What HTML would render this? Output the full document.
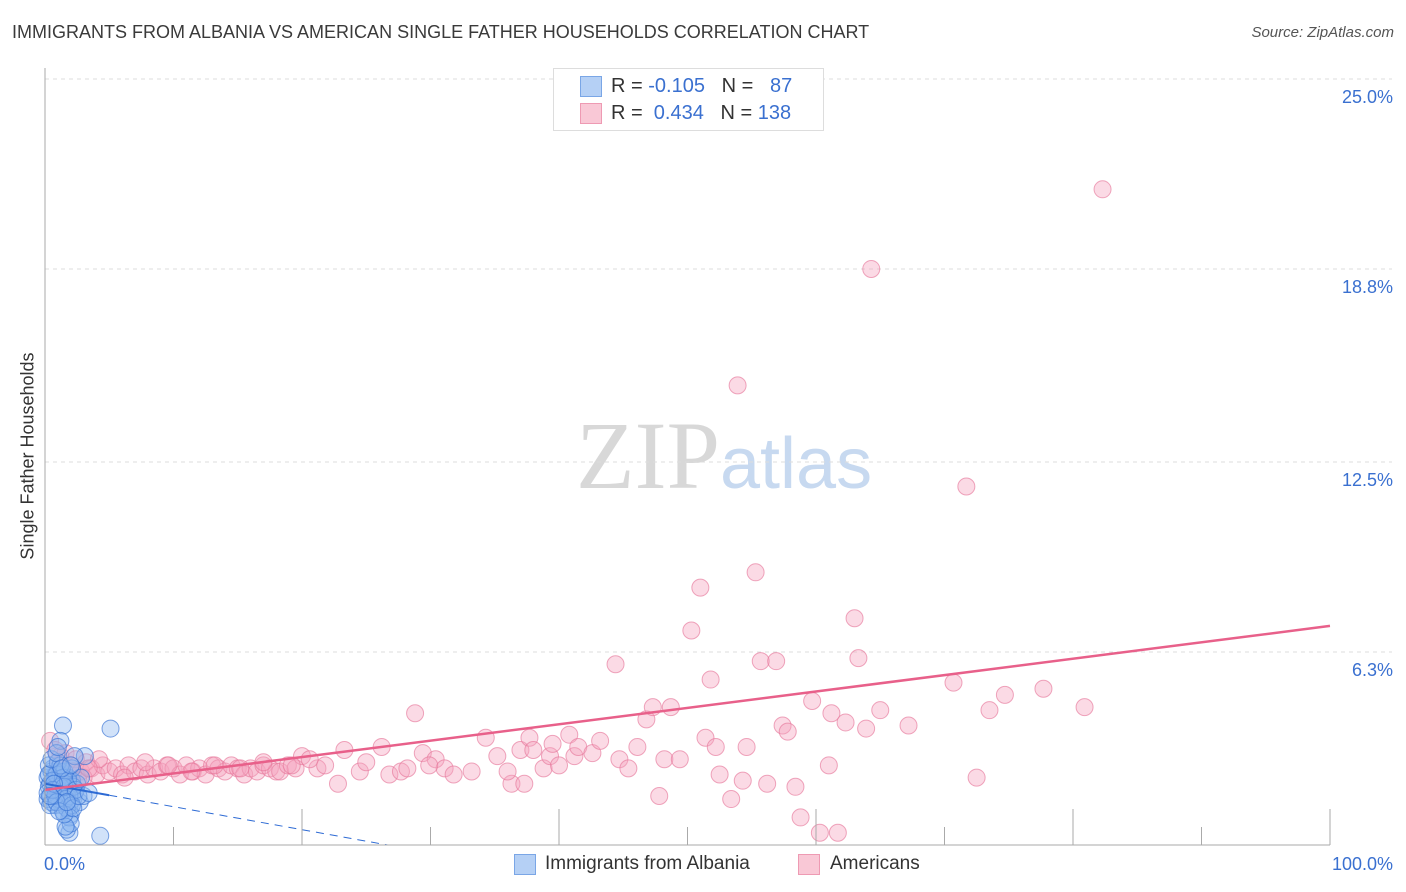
<!DOCTYPE html>
<html><head><meta charset="utf-8"><style>
html,body{margin:0;padding:0;background:#fff;}
body{width:1406px;height:892px;position:relative;overflow:hidden;font-family:"Liberation Sans",sans-serif;}
.t{position:absolute;white-space:nowrap;}
</style></head><body>
<div class="t" style="left:12px;top:22px;font-size:18px;color:#3a3a3a;">IMMIGRANTS FROM ALBANIA VS AMERICAN SINGLE FATHER HOUSEHOLDS CORRELATION CHART</div>
<div class="t" style="right:12px;top:24px;font-size:15px;color:#555;font-style:italic;">Source: ZipAtlas.com</div>
<svg id="chart" width="1406" height="892" style="position:absolute;left:0;top:0;">
<text x="720" y="488" text-anchor="end" font-family="Liberation Serif,serif" font-size="96" fill="#d8d8d8">ZIP</text>
<text x="720" y="488" font-family="Liberation Sans,sans-serif" font-size="72" fill="#c7d9f0">atlas</text>
<g id="grid"></g><g id="pts"></g><g id="lines"></g><g id="axes"></g>
</svg>
<div style="position:absolute;left:553px;top:68px;width:269px;height:61px;border:1px solid #ddd;background:#fff;font-size:20px;">
 <div style="position:absolute;left:26px;top:7px;width:20px;height:19px;background:#b5d0f5;border:1px solid #7aa6e6;"></div>
 <div class="t" style="left:57px;top:6px;color:#333;">R = <span style="color:#3a70d0">-0.105</span>&nbsp;&nbsp;&nbsp;N = &nbsp;&nbsp;<span style="color:#3a70d0">87</span></div>
 <div style="position:absolute;left:26px;top:34px;width:20px;height:19px;background:#f9c8d6;border:1px solid #ee9ab3;"></div>
 <div class="t" style="left:57px;top:33px;color:#333;">R = &nbsp;<span style="color:#3a70d0">0.434</span>&nbsp;&nbsp;&nbsp;N = <span style="color:#3a70d0">138</span></div>
</div>
<div class="t" style="left:28px;top:456px;font-size:18px;color:#333;transform:translate(-50%,-50%) rotate(-90deg);">Single Father Households</div>
<div style="position:absolute;left:514px;top:854px;width:20px;height:19px;background:#b5d0f5;border:1px solid #7aa6e6;"></div>
<div class="t" style="left:545px;top:853px;font-size:19px;color:#333;">Immigrants from Albania</div>
<div style="position:absolute;left:798px;top:854px;width:20px;height:19px;background:#f9c8d6;border:1px solid #ee9ab3;"></div>
<div class="t" style="left:830px;top:853px;font-size:19px;color:#333;">Americans</div>
<script>
const yTicks=[6.3,12.5,18.8,25.0];
const yTickLabels=["6.3%","12.5%","18.8%","25.0%"];
const xTickLabels=["0.0%","100.0%"];
const blueX=[0.2,0.3,0.4,0.5,0.6,0.7,0.8,0.9,1.0,1.1,1.2,1.3,1.4,1.5,1.6,1.7,1.8,1.9,2.0,2.1,2.2,2.3,2.5,2.7,3.0,0.2,0.4,0.6,0.8,1.0,1.2,1.4,1.6,1.8,2.0,2.2,0.3,0.5,0.7,0.9,1.1,1.3,1.5,1.7,1.9,2.1,0.2,0.4,0.6,0.8,1.0,1.2,1.4,1.6,0.3,0.6,0.9,1.2,1.5,1.8,2.1,2.4,1.4,5.1,1.2,3.1,2.3,1.9,1.7,4.3,1.9,2.0,1.6,1.5,2.2,2.6,3.4,0.5,0.9,1.3,1.0,0.7,2.8,1.1,0.4,1.7,2.0];
const blueY=[2.2,1.9,1.6,2.4,2.0,1.7,2.3,1.5,2.1,1.8,2.4,1.3,2.0,1.6,2.2,1.4,1.9,1.2,1.8,2.1,1.5,1.7,2.0,1.4,1.6,1.5,2.0,2.5,1.3,1.8,2.3,1.1,1.7,2.2,1.0,1.9,2.6,1.4,1.9,2.3,1.5,2.0,2.4,1.2,1.6,2.5,1.7,1.3,2.1,1.6,2.7,1.9,2.2,1.5,2.3,1.8,1.4,2.6,1.9,2.1,1.3,1.8,3.9,3.8,3.4,2.9,2.9,0.4,0.5,0.3,0.9,0.7,0.6,1.0,1.2,1.6,1.7,2.8,3.0,2.5,3.2,2.0,2.2,1.1,1.6,1.4,2.6];
const pinkX=[0.4,0.8,1.2,1.6,2.0,2.4,2.8,3.2,3.6,4.0,4.5,5.0,5.5,6.0,6.5,7.0,7.5,8.0,8.5,9.0,9.5,10.0,10.5,11.0,11.5,12.0,12.5,13.0,13.5,14.0,14.5,15.0,15.5,16.0,16.5,17.0,17.5,18.0,18.3,18.9,19.5,20.0,21.2,21.8,22.8,23.3,24.5,25.0,26.2,26.8,27.7,28.2,28.8,29.4,30.4,31.1,31.8,33.2,34.3,35.2,36.3,37.0,37.3,37.7,38.0,38.8,39.3,39.5,40.8,41.2,41.5,42.6,43.2,44.4,44.7,45.4,46.1,46.8,47.3,47.8,48.2,48.7,49.4,50.3,51.0,51.4,51.8,52.2,52.5,53.4,53.9,54.3,54.6,55.3,55.7,56.2,56.9,57.4,57.8,58.4,58.8,59.7,60.3,61.0,61.2,61.7,62.3,63.0,63.3,63.9,64.3,65.0,67.2,70.7,71.7,72.5,73.5,74.7,77.7,80.9,82.3,1.0,2.2,3.0,4.2,1.5,2.6,3.4,6.2,7.8,9.6,11.4,13.2,15.2,17.0,19.2,20.6,29.9,36.0,40.0];
const pinkY=[3.4,3.1,2.9,3.0,2.6,2.8,2.4,2.7,2.5,2.3,2.6,2.4,2.5,2.3,2.6,2.4,2.5,2.3,2.5,2.4,2.6,2.5,2.3,2.6,2.4,2.5,2.3,2.6,2.5,2.4,2.6,2.5,2.3,2.5,2.4,2.6,2.5,2.4,2.4,2.6,2.5,2.9,2.5,2.6,2.0,3.1,2.4,2.7,3.2,2.3,2.4,2.5,4.3,3.0,2.8,2.5,2.3,2.4,3.5,2.9,2.0,3.1,2.0,3.5,3.1,2.5,2.9,3.3,3.6,2.9,3.2,3.0,3.4,5.9,2.8,2.5,3.2,4.1,4.5,1.6,2.8,4.5,2.8,7.0,8.4,3.5,5.4,3.2,2.3,1.5,15.0,2.1,3.2,8.9,6.0,2.0,6.0,3.9,3.7,1.9,0.9,4.7,0.4,2.6,4.3,0.4,4.0,7.4,6.1,3.8,18.8,4.4,3.9,5.3,11.7,2.2,4.4,4.9,5.1,4.5,21.4,2.6,2.4,2.2,2.8,2.0,2.1,2.5,2.2,2.7,2.6,2.4,2.6,2.5,2.7,2.6,2.8,2.6,2.4,2.6];
const blueTrend=[2.0,-0.075];
const pinkTrend=[1.8,0.0535];
const X0=45,X1=1330,YB=845,YT=79;
const sx=v=>X0+v/100*(X1-X0);
const sy=v=>YB-v/25*(YB-YT);
const NS="http://www.w3.org/2000/svg";
function mk(tag,attrs,parent){const e=document.createElementNS(NS,tag);for(const k in attrs)e.setAttribute(k,attrs[k]);document.getElementById(parent).appendChild(e);return e;}
yTicks.forEach((t,i)=>{
 const g=mk('line',{x1:X0,x2:1392,y1:sy(t),y2:sy(t),stroke:'#ddd','stroke-dasharray':'4,4'},'grid');
 
 
 const tx=mk('text',{x:1393,y:sy(t)+24,'text-anchor':'end','font-size':18,fill:'#3a70d0','font-family':'Liberation Sans,sans-serif'},'axes');
 tx.textContent=yTickLabels[i];
 
 
});
const ax=mk('line',{x1:X0,x2:X0,y1:68,y2:YB,stroke:'#aaa'},'axes');


const bx=mk('line',{x1:X0,x2:X1,y1:YB,y2:YB,stroke:'#aaa'},'axes');


for(let i=1;i<=10;i++){
 const tk=mk('line',{x1:sx(i*10),x2:sx(i*10),y1:i%2?827:809,y2:YB,stroke:'#aaa'},'axes');
 
 
}
[[0,X0,'start'],[100,1393,'end']].forEach((a,i)=>{
 const tx=mk('text',{x:i?1393:44,y:870,'text-anchor':a[2],'font-size':18,fill:'#3a70d0','font-family':'Liberation Sans,sans-serif'},'axes');
 tx.textContent=xTickLabels[i];
 
 
});
pinkX.forEach((v,i)=>{
 const c=mk('circle',{cx:sx(v),cy:sy(pinkY[i]),r:8.5,fill:'rgba(246,163,189,0.4)',stroke:'rgba(230,120,155,0.65)','stroke-width':1},'pts');
 
 
});
blueX.forEach((v,i)=>{
 const c=mk('circle',{cx:sx(v),cy:sy(blueY[i]),r:8.5,fill:'rgba(140,182,240,0.4)',stroke:'rgba(50,110,210,0.65)','stroke-width':1},'pts');
 
 
});
const bEnd=-blueTrend[0]/blueTrend[1];
const bl1=mk('line',{x1:sx(0),y1:sy(blueTrend[0]),x2:sx(5),y2:sy(blueTrend[0]+5*blueTrend[1]),stroke:'#2d6ad4','stroke-width':2},'lines');


const bl2=mk('line',{x1:sx(5),y1:sy(blueTrend[0]+5*blueTrend[1]),x2:sx(bEnd),y2:sy(0),stroke:'#2d6ad4','stroke-width':1,'stroke-dasharray':'8,6'},'lines');


const pl=mk('line',{x1:sx(0),y1:sy(pinkTrend[0]),x2:sx(100),y2:sy(pinkTrend[0]+100*pinkTrend[1]),stroke:'#e8608a','stroke-width':2.5},'lines');


</script>
</body></html>
